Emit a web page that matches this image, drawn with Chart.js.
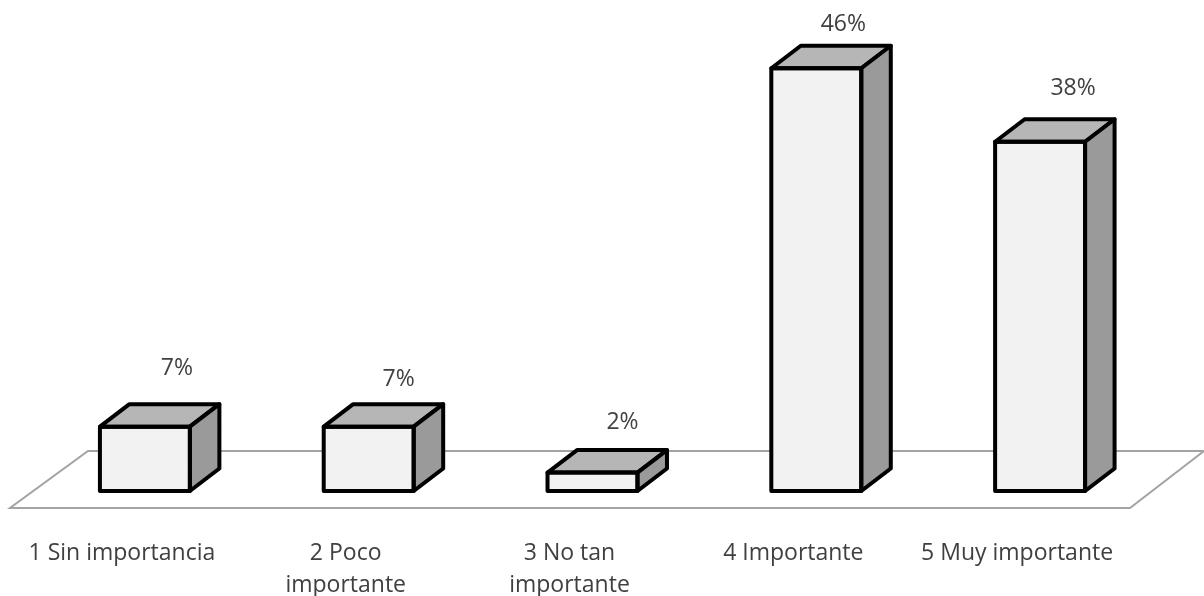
<!DOCTYPE html>
<html>
<head>
<meta charset="utf-8">
<title>Importancia</title>
<script src="https://cdn.jsdelivr.net/npm/chart.js@4"></script>
<style>
  html, body { margin: 0; background: #fff; }
  canvas { display: block; }
</style>
</head>
<body>
<canvas id="myChart" width="1204" height="596"></canvas>
<script>
const categories = [
    "1 Sin importancia",
    ["2 Poco", "importante"],
    ["3 No tan", "importante"],
    "4 Importante",
    "5 Muy importante"
]
const values = [7, 7, 2, 46, 38]
const valueLabels = ["7%", "7%", "2%", "46%", "38%"]

// hand placed value labels, relative to the top of each bar
const labelDx = [32, 30, 30, 27, 33]
const labelDy = [58.5, 47.5, 50.5, 43.5, 53.5]

const depthX = 29.5
const depthY = 22.5
const textColor = "#404040"
const textFont = "23px 'Open Sans'"

// floor plane behind the bars
const floor = {
    id: "floor",
    beforeDatasetsDraw(chart) {
        const { ctx, chartArea: a } = chart
        ctx.save()
        ctx.strokeStyle = "#a3a3a3"
        ctx.lineWidth = 2
        ctx.lineJoin = "miter"
        ctx.beginPath()
        ctx.moveTo(a.left - 23, a.bottom + 17)
        ctx.lineTo(a.right - 22, a.bottom + 17)
        ctx.lineTo(a.right + 52, a.bottom - 40)
        ctx.lineTo(a.left + 55, a.bottom - 40)
        ctx.closePath()
        ctx.stroke()
        ctx.restore()
    }
}

// top and side faces, outlines and value labels, all taken from the bar elements
const box3d = {
    id: "box3d",
    afterDatasetsDraw(chart) {
        const { ctx } = chart
        const bars = chart.getDatasetMeta(0).data
        ctx.save()
        ctx.lineJoin = "round"
        ctx.lineWidth = 4
        ctx.strokeStyle = "#000"
        bars.forEach((bar, i) => {
            const left = bar.x - bar.width / 2
            const right = bar.x + bar.width / 2
            const top = bar.y
            const bottom = bar.base

            ctx.fillStyle = "#b6b6b6"
            ctx.beginPath()
            ctx.moveTo(left, top)
            ctx.lineTo(left + depthX, top - depthY)
            ctx.lineTo(right + depthX, top - depthY)
            ctx.lineTo(right, top)
            ctx.closePath()
            ctx.fill()
            ctx.stroke()

            ctx.fillStyle = "#9a9a9a"
            ctx.beginPath()
            ctx.moveTo(right, top)
            ctx.lineTo(right + depthX, top - depthY)
            ctx.lineTo(right + depthX, bottom - depthY)
            ctx.lineTo(right, bottom)
            ctx.closePath()
            ctx.fill()
            ctx.stroke()

            ctx.strokeRect(left, top, bar.width, bottom - top)

            ctx.fillStyle = textColor
            ctx.font = textFont
            ctx.textAlign = "center"
            ctx.textBaseline = "middle"
            ctx.fillText(valueLabels[i], bar.x + labelDx[i], top - labelDy[i])
        })
        ctx.restore()
    }
}

let mychart = document.getElementById("myChart").getContext("2d")
let chart = new Chart(mychart, {
    type: "bar",
    data: {
        labels: categories,
        datasets: [{
            data: values,
            backgroundColor: "#f2f2f2",
            borderWidth: 0,
            categoryPercentage: 1,
            barPercentage: 0.402
        }]
    },
    options: {
        responsive: false,
        animation: false,
        layout: { padding: { left: 33, right: 52, top: 31.5, bottom: 0 } },
        plugins: {
            legend: { display: false },
            title: { display: false },
            tooltip: { enabled: false }
        },
        scales: {
            y: { display: false, min: 0, max: 50 },
            x: {
                grid: { display: false },
                border: { display: false },
                afterFit(scale) { scale.height = 105 },
                ticks: {
                    color: textColor,
                    font: { family: "Open Sans", size: 23, lineHeight: 1.4 },
                    padding: 38,
                    labelOffset: -23,
                    maxRotation: 0,
                    autoSkip: false
                }
            }
        }
    },
    plugins: [floor, box3d]
})
</script>
</body>
</html>
